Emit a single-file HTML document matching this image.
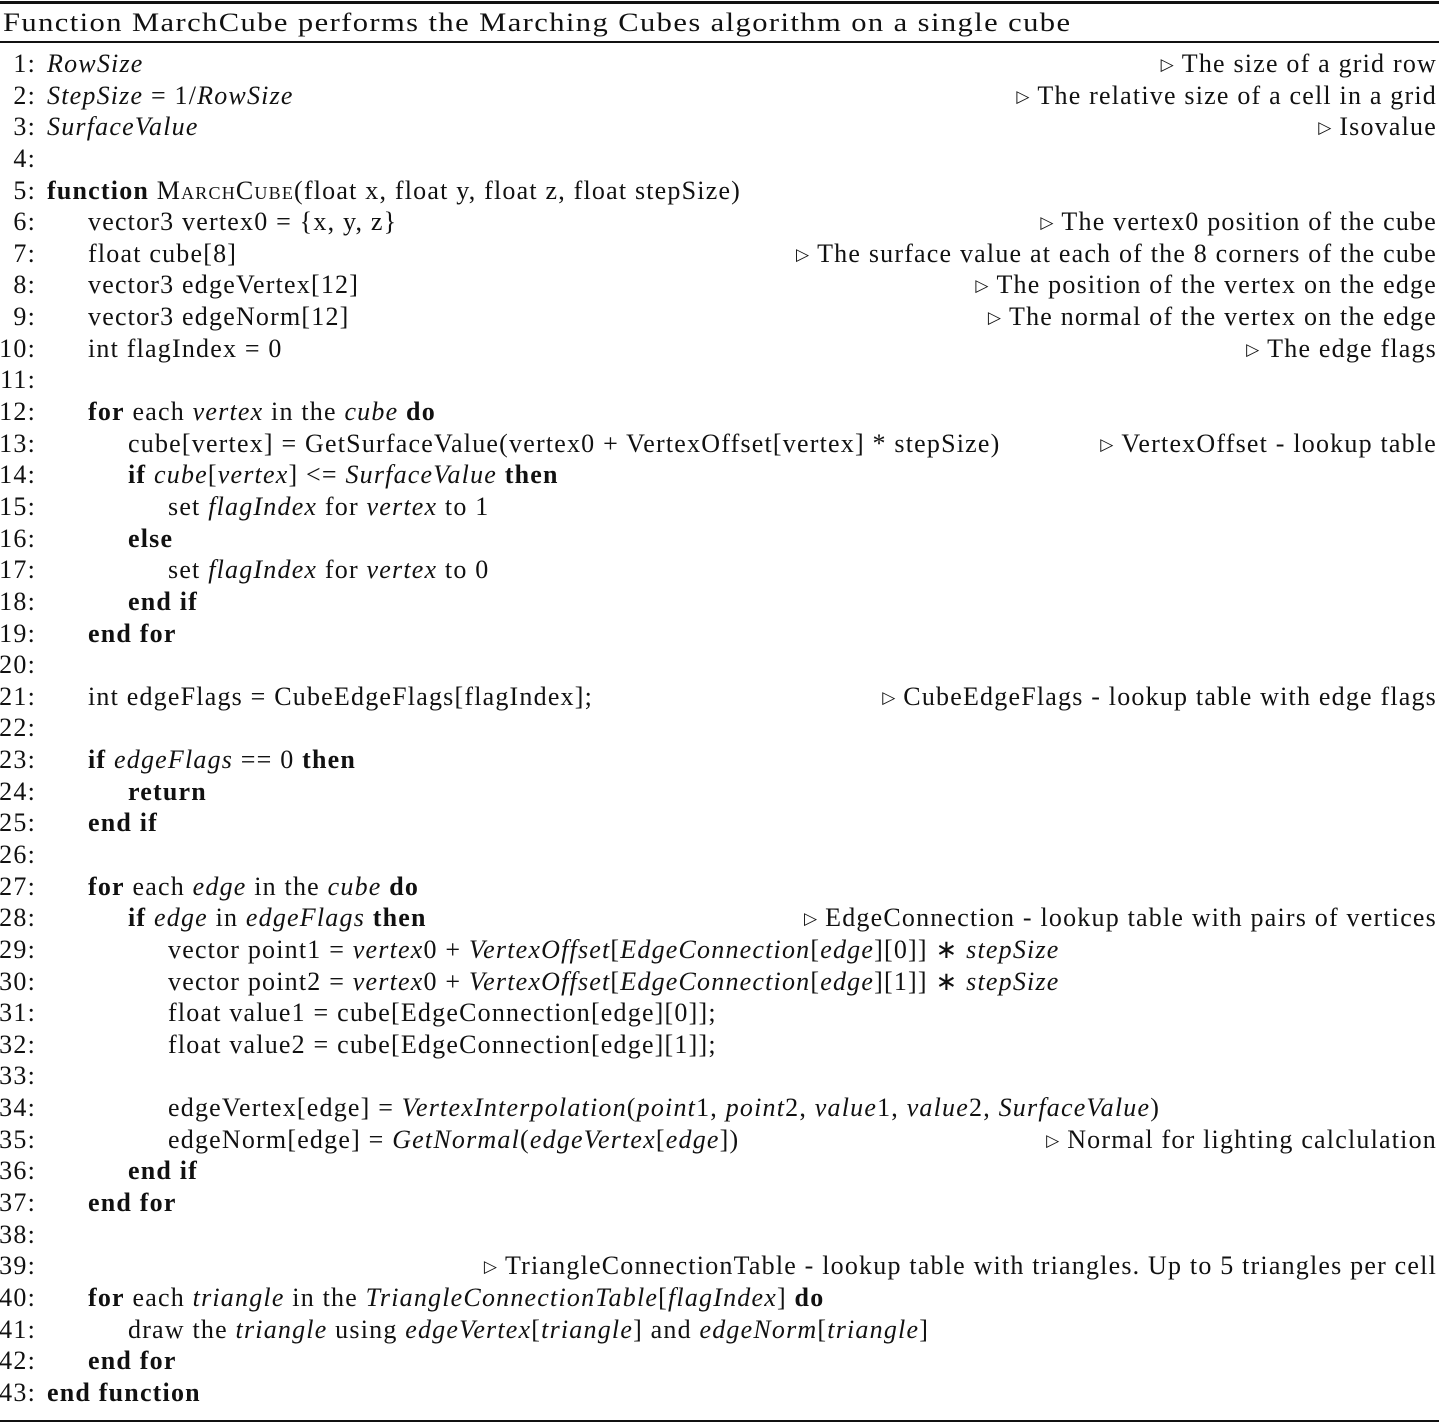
<!DOCTYPE html>
<html><head><meta charset="utf-8"><style>
html,body{margin:0;padding:0;background:#fff;}
body{width:1439px;height:1424px;position:relative;overflow:hidden;font-family:"Liberation Serif",serif;font-size:26px;color:#111;letter-spacing:1.2px;}
.r{position:absolute;left:0;width:1439px;height:32px;line-height:32px;white-space:nowrap;}
.n{position:absolute;right:1403px;text-align:right;}
.t{position:absolute;}
.c{position:absolute;right:2px;}
.tri{font-family:"DejaVu Sans",sans-serif;font-size:17px;letter-spacing:0;margin-right:8px;position:relative;top:-2px;}
b{font-weight:bold;}
.sc{font-variant:small-caps;}
.hr{position:absolute;left:0;width:1439px;background:#111;}
.title{position:absolute;left:3px;top:7px;line-height:32px;white-space:nowrap;transform-origin:left center;transform:scaleX(1.175);}
</style></head><body>
<div class="hr" style="top:1px;height:3px"></div>
<div class="title">Function MarchCube performs the Marching Cubes algorithm on a single cube</div>
<div class="hr" style="top:41px;height:1.5px"></div>
<div class="hr" style="top:1420px;height:1.5px"></div>
<div id="lines"></div>
<script>
const L=[
[0,"<i>RowSize</i>","The size of a grid row"],
[0,"<i>StepSize</i> = 1/<i>RowSize</i>","The relative size of a cell in a grid"],
[0,"<i>SurfaceValue</i>","Isovalue"],
[0,"",""],
[0,"<b>function</b> <span class='sc'>MarchCube</span>(float x, float y, float z, float stepSize)",""],
[1,"vector3 vertex0 = {x, y, z}","The vertex0 position of the cube"],
[1,"float cube[8]","The surface value at each of the 8 corners of the cube"],
[1,"vector3 edgeVertex[12]","The position of the vertex on the edge"],
[1,"vector3 edgeNorm[12]","The normal of the vertex on the edge"],
[1,"int flagIndex = 0","The edge flags"],
[0,"",""],
[1,"<b>for</b> each <i>vertex</i> in the <i>cube</i> <b>do</b>",""],
[2,"cube[vertex] = GetSurfaceValue(vertex0 + VertexOffset[vertex] * stepSize)","VertexOffset - lookup table"],
[2,"<b>if</b> <i>cube</i>[<i>vertex</i>] &lt;= <i>SurfaceValue</i> <b>then</b>",""],
[3,"set <i>flagIndex</i> for <i>vertex</i> to 1",""],
[2,"<b>else</b>",""],
[3,"set <i>flagIndex</i> for <i>vertex</i> to 0",""],
[2,"<b>end if</b>",""],
[1,"<b>end for</b>",""],
[0,"",""],
[1,"int edgeFlags = CubeEdgeFlags[flagIndex];","CubeEdgeFlags - lookup table with edge flags"],
[0,"",""],
[1,"<b>if</b> <i>edgeFlags</i> == 0 <b>then</b>",""],
[2,"<b>return</b>",""],
[1,"<b>end if</b>",""],
[0,"",""],
[1,"<b>for</b> each <i>edge</i> in the <i>cube</i> <b>do</b>",""],
[2,"<b>if</b> <i>edge</i> in <i>edgeFlags</i> <b>then</b>","EdgeConnection - lookup table with pairs of vertices"],
[3,"vector point1 = <i>vertex</i>0 + <i>VertexOffset</i>[<i>EdgeConnection</i>[<i>edge</i>][0]] ∗ <i>stepSize</i>",""],
[3,"vector point2 = <i>vertex</i>0 + <i>VertexOffset</i>[<i>EdgeConnection</i>[<i>edge</i>][1]] ∗ <i>stepSize</i>",""],
[3,"float value1 = cube[EdgeConnection[edge][0]];",""],
[3,"float value2 = cube[EdgeConnection[edge][1]];",""],
[0,"",""],
[3,"edgeVertex[edge] = <i>VertexInterpolation</i>(<i>point</i>1, <i>point</i>2, <i>value</i>1, <i>value</i>2, <i>SurfaceValue</i>)",""],
[3,"edgeNorm[edge] = <i>GetNormal</i>(<i>edgeVertex</i>[<i>edge</i>])","Normal for lighting calclulation"],
[2,"<b>end if</b>",""],
[1,"<b>end for</b>",""],
[0,"",""],
[0,"","TriangleConnectionTable - lookup table with triangles. Up to 5 triangles per cell"],
[1,"<b>for</b> each <i>triangle</i> in the <i>TriangleConnectionTable</i>[<i>flagIndex</i>] <b>do</b>",""],
[2,"draw the <i>triangle</i> using <i>edgeVertex</i>[<i>triangle</i>] and <i>edgeNorm</i>[<i>triangle</i>]",""],
[1,"<b>end for</b>",""],
[0,"<b>end function</b>",""]
];
const ind=[47,88,128,168];
let h="";
L.forEach((l,i)=>{
 const top=Math.round(72+i*31.64-24);
 h+=`<div class="r" style="top:${top}px"><span class="n">${i+1}:</span><span class="t" style="left:${ind[l[0]]}px">${l[1]}</span>${l[2]?`<span class="c"><span class="tri">▷</span>${l[2]}</span>`:""}</div>`;
});
document.getElementById("lines").innerHTML=h;
</script>
</body></html>
